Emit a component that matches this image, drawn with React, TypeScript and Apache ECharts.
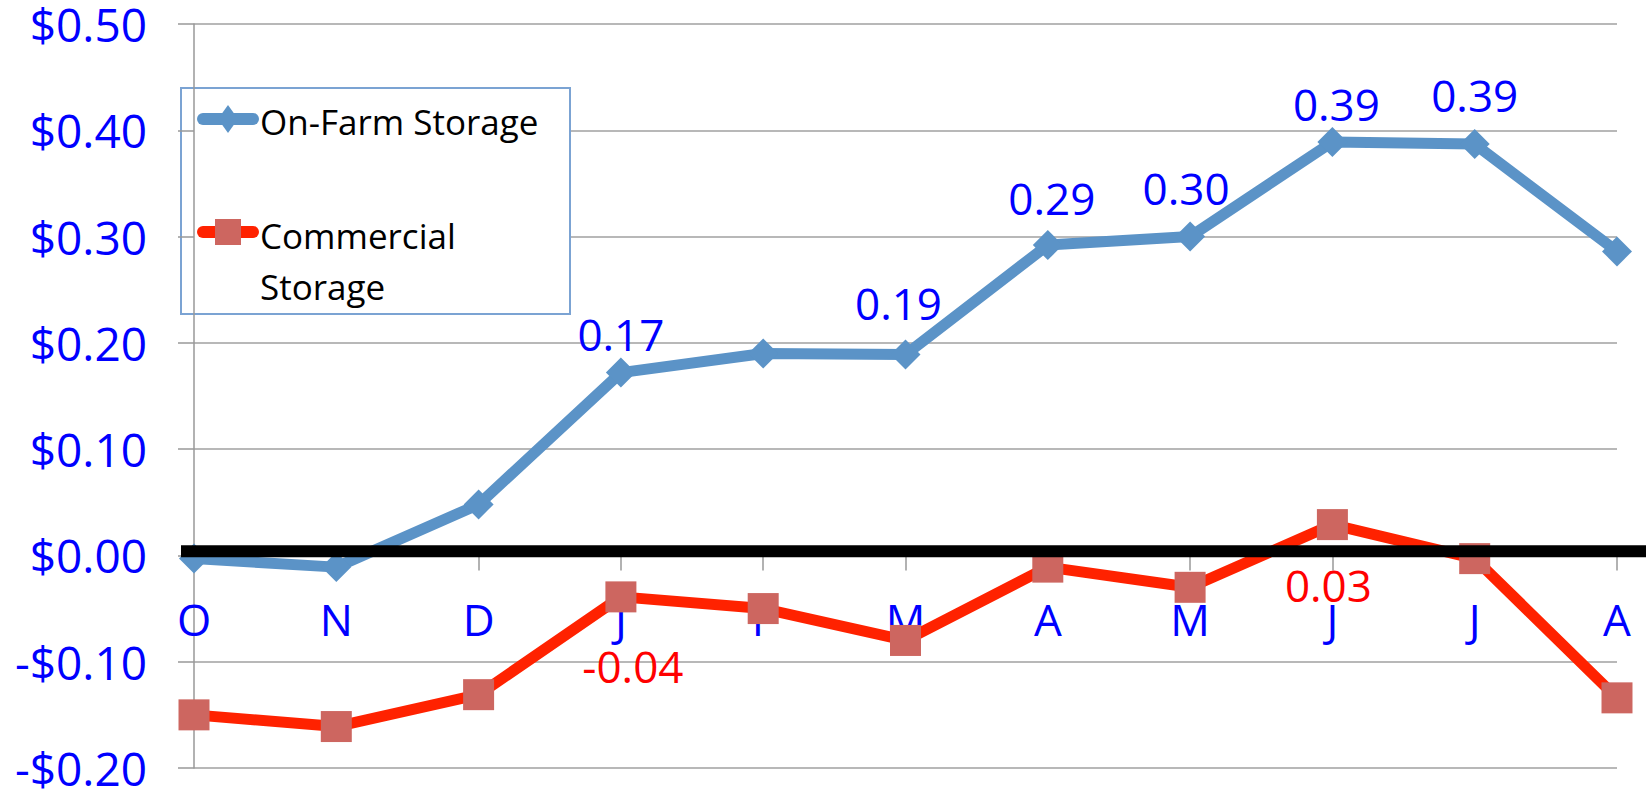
import React, { useEffect, useRef } from 'react';
import * as echarts from 'echarts';

const categories = ['O', 'N', 'D', 'J', 'F', 'M', 'A', 'M', 'J', 'J', 'A'];
const onFarmStorage = [-0.003, -0.011, 0.048, 0.172, 0.19, 0.189, 0.292, 0.3, 0.389, 0.387, 0.286];
const commercialStorage = [-0.15, -0.161, -0.131, -0.039, -0.05, -0.08, -0.011, -0.03, 0.029, -0.003, -0.134];
const seriesNames = ['On-Farm Storage', 'Commercial Storage'];
const yMin = -0.2;
const yMax = 0.5;
const yInterval = 0.1;
const zeroLineValue = 0.004;
// indices of points that carry a value label
const onFarmLabeled = [3, 5, 6, 7, 8, 9];
const commercialLabeled = [3, 8];

// style: label nudges (pixels)
const onFarmLabelOffset: Record<number, number[]> = {
  3: [0, 0], 5: [-7, -13], 6: [4, -8], 7: [-4, -10], 8: [4, 1], 9: [0, -10],
};
const commercialLabelOffset: Record<number, number[]> = {
  3: [12, 6], 8: [-4, -3],
};

const FONT = "'Open Sans', sans-serif";
const BLUE_LINE = '#5B93C7';
const RED_LINE = '#FF2200';
const RED_MARK = '#CD6660';

export default function App() {
  const ref = useRef<HTMLDivElement>(null);
  useEffect(() => {
    const chart = echarts.init(ref.current!, null, { renderer: 'svg' });
    const fmt = (v: number) => v.toFixed(2);
    const option: any = {
      animation: false,
      backgroundColor: '#ffffff',
      grid: { left: 194, right: 29, top: 24, bottom: 29, containLabel: false, outerBoundsMode: 'none' },
      xAxis: {
        type: 'category',
        data: categories,
        boundaryGap: false,
        offset: 0,
        axisLine: { show: true, onZero: false, lineStyle: { color: '#999999', width: 1.5 } },
        axisTick: { show: true, length: 15, lineStyle: { color: '#999999', width: 1.5 } },
        axisLabel: {
          color: '#0000FF', fontSize: 44, lineHeight: 44, fontFamily: FONT, margin: 42, interval: 0,
        },
        splitLine: { show: false },
      },
      yAxis: {
        type: 'value',
        min: yMin,
        max: yMax,
        interval: yInterval,
        axisLine: { show: true, lineStyle: { color: '#999999', width: 1.5 } },
        axisTick: { show: true, length: 16, lineStyle: { color: '#999999', width: 1.5 } },
        axisLabel: {
          color: '#0000FF',
          fontSize: 46,
          lineHeight: 44,
          fontFamily: FONT,
          margin: 47,
          formatter: (v: number) => (v < -1e-9 ? '-' : '') + '$' + Math.abs(v).toFixed(2),
        },
        splitLine: { show: true, lineStyle: { color: '#A0A0A0', width: 1.5 } },
      },
      series: [
        {
          name: seriesNames[0],
          type: 'line',
          symbol: 'diamond',
          symbolSize: 30,
          lineStyle: { color: BLUE_LINE, width: 11 },
          itemStyle: { color: BLUE_LINE },
          z: 3,
          data: onFarmStorage.map((v, i) => ({
            value: v,
            label: onFarmLabeled.includes(i)
              ? {
                  show: true,
                  position: 'top',
                  distance: 2,
                  offset: onFarmLabelOffset[i] || [0, 0],
                  formatter: () => fmt(v),
                  color: '#0000FF',
                  fontSize: 44,
                  fontFamily: FONT,
                }
              : { show: false },
          })),
        },
        {
          name: seriesNames[1],
          type: 'line',
          symbol: 'rect',
          symbolSize: 31,
          lineStyle: { color: RED_LINE, width: 11 },
          itemStyle: { color: RED_MARK },
          z: 4,
          data: commercialStorage.map((v, i) => ({
            value: v,
            label: commercialLabeled.includes(i)
              ? {
                  show: true,
                  position: 'bottom',
                  distance: 26,
                  offset: commercialLabelOffset[i] || [0, 0],
                  formatter: () => fmt(v),
                  color: '#FF0000',
                  fontSize: 44,
                  fontFamily: FONT,
                }
              : { show: false },
          })),
        },
      ],
    };
    chart.setOption(option);

    const yZero = chart.convertToPixel({ yAxisIndex: 0 }, 0) as number;
    const yBottom = chart.convertToPixel({ yAxisIndex: 0 }, yMin) as number;
    const y0 = chart.convertToPixel({ yAxisIndex: 0 }, zeroLineValue) as number;
    const w = chart.getWidth();
    chart.setOption({
      xAxis: { offset: yZero - yBottom },
      graphic: [
        {
          type: 'line',
          z: 100,
          shape: { x1: 181, y1: y0, x2: w, y2: y0 },
          style: { stroke: '#000000', lineWidth: 12 },
        },
        {
          type: 'group',
          z: 110,
          children: [
            {
              type: 'rect',
              shape: { x: 181, y: 88, width: 389, height: 226 },
              style: { fill: '#ffffff', stroke: '#7BA3D3', lineWidth: 2 },
            },
            {
              type: 'line',
              shape: { x1: 203, y1: 119, x2: 253, y2: 119 },
              style: { stroke: BLUE_LINE, lineWidth: 12, lineCap: 'round' },
            },
            {
              type: 'polygon',
              shape: { points: [[228, 105], [238, 119], [228, 133], [218, 119]] },
              style: { fill: BLUE_LINE },
            },
            {
              type: 'text',
              style: {
                text: seriesNames[0],
                x: 260,
                y: 121,
                fill: '#000000',
                fontSize: 35,
                fontFamily: FONT,
                verticalAlign: 'middle',
                align: 'left',
              },
            },
            {
              type: 'line',
              shape: { x1: 203, y1: 232, x2: 253, y2: 232 },
              style: { stroke: RED_LINE, lineWidth: 12, lineCap: 'round' },
            },
            {
              type: 'rect',
              shape: { x: 215, y: 219, width: 26, height: 26 },
              style: { fill: RED_MARK },
            },
            {
              type: 'text',
              style: {
                text: 'Commercial\nStorage',
                x: 260,
                y: 210,
                fill: '#000000',
                fontSize: 35,
                lineHeight: 51,
                fontFamily: FONT,
                verticalAlign: 'top',
                align: 'left',
              },
            },
          ],
        },
      ],
    });
    return () => chart.dispose();
  }, []);
  return (
    <div
      ref={ref}
      style={{ position: 'absolute', left: 0, top: 0, width: 1646, height: 797 }}
    />
  );
}
